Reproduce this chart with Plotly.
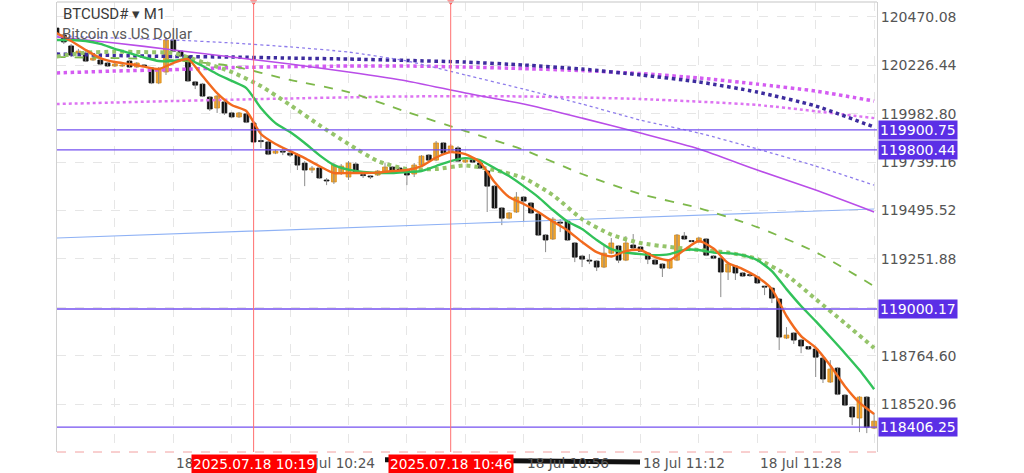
import pandas as pd
import plotly.graph_objects as go

# ---------------- data ----------------
symbol_title = "BTCUSD# \u25be M1"
symbol_desc = "Bitcoin vs US Dollar"
start_time = pd.Timestamp("2025-07-18 09:52")
n_candles = 113

opens = [120413, 120378, 120323, 120287, 120287, 120252, 120252, 120237, 120222, 120222,
         120247, 120217, 120227, 120212, 120137, 120192, 120353, 120297, 120272, 120142,
         120131, 120066, 120011, 120041, 119986, 119966, 119981, 119935, 119845, 119840,
         119784, 119794, 119784, 119774, 119734, 119699, 119709, 119649, 119639, 119684,
         119664, 119729, 119674, 119669, 119674, 119694, 119714, 119709, 119699, 119679,
         119724, 119774, 119749, 119835, 119789, 119810, 119739, 119749, 119734, 119694,
         119618, 119508, 119457, 119488, 119563, 119533, 119478, 119372, 119352, 119437,
         119442, 119332, 119266, 119246, 119241, 119211, 119281, 119317, 119246, 119322,
         119312, 119281, 119246, 119226, 119206, 119246, 119367, 119344, 119337, 119352,
         119266, 119256, 119186, 119216, 119181, 119171, 119161, 119113, 119105, 119050,
         118854, 118879, 118844, 118811, 118799, 118753, 118633, 118703, 118567, 118507,
         118452, 118557, 118401]
highs = [120423, 120388, 120333, 120308, 120297, 120272, 120262, 120242, 120242, 120237,
         120252, 120242, 120232, 120217, 120217, 120368, 120363, 120302, 120277, 120147,
         120137, 120071, 120076, 120051, 119991, 119991, 119986, 119945, 119900, 119845,
         119800, 119810, 119794, 119784, 119744, 119719, 119714, 119659, 119734, 119729,
         119744, 119739, 119689, 119674, 119699, 119734, 119719, 119714, 119709, 119734,
         119774, 119779, 119845, 119840, 119830, 119820, 119754, 119754, 119739, 119699,
         119623, 119513, 119488, 119588, 119568, 119538, 119483, 119377, 119462, 119452,
         119447, 119337, 119271, 119276, 119246, 119317, 119357, 119322, 119367, 119377,
         119317, 119286, 119251, 119231, 119251, 119377, 119387, 119347, 119362, 119357,
         119271, 119261, 119236, 119221, 119186, 119181, 119166, 119115, 119110, 119055,
         118909, 118884, 118849, 118814, 118804, 118758, 118743, 118708, 118572, 118512,
         118562, 118562, 118477]
lows = [120373, 120333, 120267, 120277, 120242, 120247, 120227, 120217, 120217, 120217,
        120212, 120212, 120217, 120131, 120131, 120177, 120292, 120267, 120142, 120106,
        120066, 119996, 119986, 119976, 119961, 119961, 119935, 119835, 119810, 119774,
        119779, 119774, 119764, 119699, 119618, 119684, 119654, 119623, 119629, 119674,
        119649, 119679, 119659, 119654, 119669, 119689, 119689, 119689, 119623, 119664,
        119719, 119744, 119744, 119779, 119784, 119739, 119734, 119734, 119704, 119488,
        119503, 119422, 119452, 119483, 119437, 119478, 119367, 119286, 119347, 119387,
        119342, 119236, 119211, 119226, 119191, 119206, 119276, 119231, 119241, 119302,
        119286, 119226, 119221, 119161, 119201, 119241, 119347, 119337, 119332, 119266,
        119251, 119060, 119146, 119146, 119161, 119161, 119126, 119070, 119030, 118794,
        118849, 118824, 118778, 118794, 118658, 118628, 118628, 118567, 118512, 118416,
        118381, 118376, 118396]
closes = [120383, 120343, 120277, 120297, 120247, 120262, 120232, 120222, 120232, 120227,
          120217, 120237, 120222, 120137, 120207, 120353, 120297, 120272, 120147, 120126,
          120071, 120006, 120071, 119986, 119966, 119986, 119940, 119840, 119842, 119779,
          119794, 119789, 119774, 119724, 119699, 119709, 119659, 119644, 119724, 119719,
          119734, 119684, 119671, 119664, 119694, 119714, 119694, 119699, 119674, 119724,
          119769, 119749, 119835, 119784, 119820, 119744, 119749, 119739, 119709, 119618,
          119508, 119457, 119483, 119563, 119543, 119483, 119372, 119347, 119452, 119432,
          119347, 119261, 119251, 119241, 119211, 119281, 119332, 119246, 119332, 119307,
          119291, 119251, 119226, 119206, 119246, 119372, 119352, 119339, 119357, 119271,
          119256, 119186, 119226, 119181, 119166, 119168, 119131, 119110, 119055, 118859,
          118869, 118844, 118814, 118799, 118758, 118648, 118698, 118572, 118517, 118457,
          118557, 118406, 118436]

# indicator lines (at the listed candle indices)
fast_ma_idx = list(range(0, 113, 2))
fast_ma = [120388, 120348, 120303, 120262, 120242, 120232, 120219, 120207, 120237, 120257,
           120172, 120086, 120026, 119996, 119880, 119830, 119794, 119759, 119719, 119684,
           119684, 119684, 119686, 119694, 119699, 119719, 119762, 119789, 119779, 119739,
           119639, 119563, 119528, 119488, 119440, 119395, 119337, 119286, 119264, 119291,
           119297, 119261, 119246, 119297, 119342, 119304, 119231, 119201, 119161, 119100,
           118965, 118864, 118806, 118716, 118612, 118529, 118472]
mid_ma_idx = list(range(0, 113, 2))
mid_ma = [120353, 120353, 120348, 120333, 120308, 120287, 120265, 120247, 120247, 120257,
          120222, 120182, 120147, 120111, 120011, 119935, 119890, 119835, 119774, 119724,
          119701, 119689, 119684, 119684, 119689, 119694, 119719, 119744, 119759, 119749,
          119709, 119669, 119618, 119563, 119498, 119440, 119402, 119347, 119301, 119284,
          119276, 119271, 119276, 119297, 119297, 119284, 119281, 119271, 119246, 119191,
          119100, 119015, 118939, 118859, 118778, 118693, 118597]
ribbon_ma_idx = list(range(0, 113, 4))
ribbon_ma = [120270, 120289, 120294, 120292, 120287, 120242, 120192, 120121, 120026, 119925,
             119830, 119744, 119704, 119704, 119722, 119699, 119659, 119573, 119452, 119374,
             119332, 119312, 119297, 119284, 119251, 119171, 119050, 118929, 118804]
slow_idx = list(range(0, 113, 8))
dashed_ma = [120267, 120262, 120252, 120222, 120152, 120091, 119991, 119895, 119800, 119679,
             119578, 119508, 119412, 119286, 119115]
purple_ma = [120368, 120338, 120303, 120267, 120232, 120192, 120147, 120086, 120031, 119960,
             119885, 119805, 119699, 119598, 119488]
lavender_ma = [120373, 120363, 120353, 120338, 120318, 120292, 120247, 120177, 120106, 120031,
               119950, 119885, 119805, 119719, 119623]
navy_ma = [120282, 120275, 120270, 120267, 120262, 120257, 120250, 120242, 120227, 120207,
           120177, 120142, 120091, 120021, 119915]
magenta_ma = [120187, 120197, 120204, 120214, 120219, 120222, 120222, 120217, 120209, 120199,
              120184, 120162, 120131, 120096, 120046]
pink_idx = list(range(0, 113, 16))
pink_ma = [120031, 120046, 120059, 120069, 120069, 120056, 120026, 119960]
blue_idx = [0, 56, 112]
blue_ma = [119357, 119430, 119503]

price_ticks = [120470.08, 120226.44, 119982.80, 119739.16, 119495.52,
               119251.88, 119008.24, 118764.60, 118520.96]
level_prices = [119900.75, 119800.44, 119000.17, 118406.25]
marker_times = ["10:19", "10:46"]
time_labels = ["09:52", "10:08", "10:24", "10:40", "10:56", "11:12", "11:28"]
y_range = [118281, 120544]

# ---------------- build ----------------
times = [start_time + pd.Timedelta(minutes=i) for i in range(n_candles)]
FONT = "Roboto, Liberation Sans, Arial"
AXFONT = "DejaVu Sans, Verdana, sans-serif"

def t_of(hhmm):
    return pd.Timestamp("2025-07-18 " + hhmm)

fig = go.Figure()

# wicks
wx, wy = [], []
for t, h, l in zip(times, highs, lows):
    wx += [t, t, None]
    wy += [l, h, None]
fig.add_trace(go.Scatter(x=wx, y=wy, mode="lines", line=dict(color="#8a8a8a", width=1),
                         hoverinfo="skip", showlegend=False))

# bodies
base = [min(o, c) for o, c in zip(opens, closes)]
height = [max(abs(c - o), 5) for o, c in zip(opens, closes)]
fill = ["#F5A62E" if c > o else "#111111" for o, c in zip(opens, closes)]
edge = ["#D88A14" if c > o else "#111111" for o, c in zip(opens, closes)]
fig.add_trace(go.Bar(x=times, y=height, base=base, width=0.66 * 60000,
                     marker=dict(color=fill, line=dict(color=edge, width=0.8)),
                     showlegend=False, hoverinfo="skip"))

def line_trace(idx, vals, color, width, dash="solid"):
    fig.add_trace(go.Scatter(x=[times[i] for i in idx], y=vals, mode="lines",
                             line=dict(color=color, width=width, dash=dash, shape="spline",
                                       smoothing=0.6),
                             showlegend=False, hoverinfo="skip"))

line_trace(blue_idx, blue_ma, "#8FB2F5", 1.2)
line_trace(pink_idx, pink_ma, "#DD74F2", 2.5, "dot")
line_trace(slow_idx, magenta_ma, "#D45CF2", 3.5, "dot")
line_trace(slow_idx, navy_ma, "#3D2C9E", 3.5, "dot")
line_trace(slow_idx, lavender_ma, "#8E7CEB", 1.3, "dot")
line_trace(slow_idx, purple_ma, "#B94DE8", 1.6)
line_trace(slow_idx, dashed_ma, "#7DB84A", 1.8, "dash")
line_trace(ribbon_ma_idx, ribbon_ma, "#95C46A", 4, "dot")
line_trace(mid_ma_idx, mid_ma, "#32C25A", 2.4)
line_trace(fast_ma_idx, fast_ma, "#F26A1E", 2.4)

# red markers at top of the vertical time lines
fig.add_trace(go.Scatter(x=[t_of(m) for m in marker_times], y=[y_range[1]] * len(marker_times),
                         mode="markers", marker=dict(symbol="triangle-down", size=6, color="#FF3030"),
                         cliponaxis=False, showlegend=False, hoverinfo="skip"))

shapes = []
for p in level_prices:
    shapes.append(dict(type="line", xref="paper", x0=0, x1=1, yref="y", y0=p, y1=p,
                       line=dict(color="#7450F0", width=1.3)))
for m in marker_times:
    shapes.append(dict(type="line", xref="x", x0=t_of(m), x1=t_of(m), yref="paper", y0=0, y1=1,
                       line=dict(color="#FF7070", width=1)))
shapes.append(dict(type="line", xref="paper", x0=0, x1=1, yref="paper", y0=1, y1=1,
                   line=dict(color="#d8d8d8", width=1.5)))
shapes.append(dict(type="line", xref="paper", x0=0, x1=1, yref="paper", y0=0, y1=0,
                   line=dict(color="#F2A0A0", width=1, dash="dash")))

annotations = [
    dict(xref="paper", yref="paper", x=0, y=1, xanchor="left", yanchor="top", xshift=4, yshift=-1,
         text=symbol_title, showarrow=False, font=dict(family=FONT, size=15, color="#3a3a3a")),
    dict(xref="paper", yref="paper", x=0, y=1, xanchor="left", yanchor="top", xshift=3, yshift=-21,
         text=symbol_desc, showarrow=False, font=dict(family=FONT, size=15, color="#5a5a5a")),
]
for lab in time_labels:
    annotations.append(dict(xref="x", yref="paper", x=t_of(lab), y=0, xanchor="left", yanchor="top",
                            xshift=1, yshift=-1, text="18 Jul " + lab, showarrow=False,
                            font=dict(family=AXFONT, size=13.7, color="#555555")))
for m in marker_times:
    annotations.append(dict(xref="x", yref="paper", x=t_of(m), y=0, xanchor="center", yanchor="top",
                            yshift=-2, text="2025.07.18 " + m, showarrow=False, bgcolor="#FF0000",
                            borderpad=1, font=dict(family=AXFONT, size=13.7, color="white")))
for p in level_prices:
    annotations.append(dict(xref="paper", yref="y", x=1, y=p, xanchor="left", yanchor="middle",
                            xshift=1, text=f"{p:.2f}", showarrow=False, bgcolor="#5B2FE6",
                            borderpad=1, font=dict(family=AXFONT, size=14, color="white")))

# redaction stroke over part of the time axis
shapes.append(dict(type="line", xref="paper", x0=0.40, x1=0.711, yref="paper", y0=-0.017, y1=-0.022,
                   line=dict(color="#111111", width=5)))

fig.update_layout(
    width=1024, height=473,
    margin=dict(l=57, r=147, t=2, b=21, autoexpand=False),
    paper_bgcolor="white", plot_bgcolor="white",
    showlegend=False, barmode="overlay",
    shapes=shapes, annotations=annotations,
    font=dict(family=FONT),
)
fig.update_xaxes(
    type="date",
    range=[start_time + pd.Timedelta(seconds=4), start_time + pd.Timedelta(minutes=112.4)],
    tick0=start_time, dtick=8 * 60 * 1000,
    showgrid=True, gridcolor="#e6e6e6", griddash="dash", gridwidth=1,
    showticklabels=False, zeroline=False, showline=False,
)
fig.update_yaxes(
    side="right", range=y_range,
    tickvals=price_ticks, ticktext=[f"{v:.2f}" for v in price_ticks],
    tickfont=dict(family=AXFONT, size=14, color="#555555"),
    showgrid=True, gridcolor="#e6e6e6", griddash="dash", gridwidth=1,
    showline=True, linecolor="#d0d0d0", linewidth=1, mirror=True, zeroline=False,
)

fig.write_html("out.html", config={"displayModeBar": False},
               post_script="document.body.style.margin='0px';document.body.style.overflow='hidden';")
